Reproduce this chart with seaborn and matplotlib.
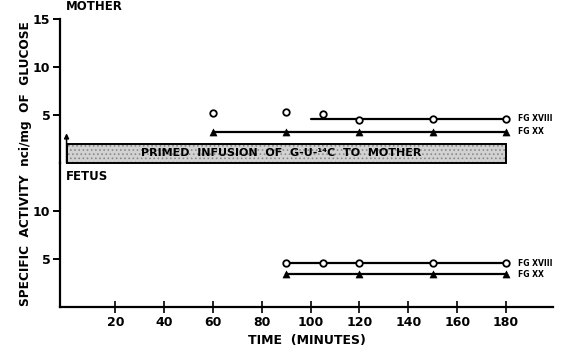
import numpy as np
import pandas as pd
import matplotlib
matplotlib.use('Agg')
import matplotlib.pyplot as plt
import seaborn as sns
from matplotlib.patches import Rectangle

# mother panel, FG XVIII (open circles) and FG XX (filled triangles)
mother_xviii_time = [60, 90, 105, 120, 150, 180]
mother_xviii_value = [5.25, 5.35, 5.1, 4.5, 4.6, 4.6]
mother_xviii_line = [100, 180]
mother_xviii_level = 4.6
mother_xx_time = [60, 90, 120, 150, 180]
mother_xx_value = [3.25, 3.25, 3.25, 3.25, 3.25]
mother_xx_line = [60, 180]
mother_xx_level = 3.25

# fetus panel
fetus_xviii_time = [90, 105, 120, 150, 180]
fetus_xviii_value = [4.55, 4.55, 4.55, 4.55, 4.55]
fetus_xviii_line = [90, 180]
fetus_xviii_level = 4.55
fetus_xx_time = [90, 120, 150, 180]
fetus_xx_value = [3.4, 3.4, 3.4, 3.4]
fetus_xx_line = [90, 180]
fetus_xx_level = 3.4

# infusion bar spans 0-180 min
infusion_start = 0
infusion_end = 180

x_ticks = [20, 40, 60, 80, 100, 120, 140, 160, 180]
mother_ticks = [5, 10, 15]
fetus_ticks = [5, 10]

sns.set_style('ticks')
plt.rcParams['font.family'] = ['DejaVu Sans']
plt.rcParams['font.weight'] = 'bold'
plt.rcParams['text.color'] = 'black'
plt.rcParams['axes.labelcolor'] = 'black'
plt.rcParams['xtick.color'] = 'black'
plt.rcParams['ytick.color'] = 'black'
plt.rcParams['axes.edgecolor'] = 'black'
plt.rcParams['hatch.linewidth'] = 0.7

fig = plt.figure(figsize=(5.69, 3.51), dpi=100)
ax_m = fig.add_axes([0.1054, 0.5356, 0.8666, 0.410])
ax_f = fig.add_axes([0.1054, 0.126, 0.8666, 0.4096])

xlim = (-2.7, 199.3)


def draw_group(ax, t1, v1, line1, lev1, t2, v2, line2, lev2):
    ax.plot(line1, [lev1, lev1], color='black', lw=1.6, zorder=2)
    ax.plot(line2, [lev2, lev2], color='black', lw=1.6, zorder=2)
    sns.scatterplot(x=t1, y=v1, ax=ax, marker='o', s=22, facecolor='white',
                    edgecolor='black', linewidth=1.3, zorder=3)
    sns.scatterplot(x=t2, y=v2, ax=ax, marker='^', s=26, color='black',
                    edgecolor='black', zorder=3)
    ax.text(185, lev1, 'FG XVIII', fontsize=5.5, fontweight='bold', va='center')
    ax.text(185, lev2, 'FG XX', fontsize=5.5, fontweight='bold', va='center')


draw_group(ax_m, mother_xviii_time, mother_xviii_value, mother_xviii_line, mother_xviii_level,
           mother_xx_time, mother_xx_value, mother_xx_line, mother_xx_level)
draw_group(ax_f, fetus_xviii_time, fetus_xviii_value, fetus_xviii_line, fetus_xviii_level,
           fetus_xx_time, fetus_xx_value, fetus_xx_line, fetus_xx_level)

# infusion bar: stippled fill, then black outline
ax_m.add_patch(Rectangle((infusion_start, 0), infusion_end - infusion_start, 2.0,
                         facecolor='#d2d2d2', edgecolor='#8a8a8a', lw=0,
                         hatch='....', zorder=2, clip_on=False))
ax_m.add_patch(Rectangle((infusion_start, 0), infusion_end - infusion_start, 2.0,
                         facecolor='none', edgecolor='black', lw=1.4,
                         zorder=3, clip_on=False))
ax_m.text((infusion_start + infusion_end) / 2 - 2, 1.0,
          'PRIMED  INFUSION  OF  G-U-¹⁴C  TO  MOTHER',
          ha='center', va='center', fontsize=8, fontweight='bold', zorder=4)
ax_m.annotate('', xy=(0, 3.1), xytext=(0, 0),
              arrowprops=dict(arrowstyle='-|>', color='black', lw=1.1,
                              mutation_scale=7, shrinkA=0, shrinkB=0))

for ax in (ax_m, ax_f):
    ax.set_xlim(*xlim)
    ax.set_ylim(0, 15)
    ax.spines['top'].set_visible(False)
    ax.spines['right'].set_visible(False)
    ax.spines['left'].set_linewidth(1.6)
    ax.tick_params(axis='y', length=5, width=1.4, labelsize=9, pad=2)
    ax.set_facecolor('none')

ax_m.spines['bottom'].set_visible(False)
ax_m.set_xticks([])
ax_m.set_yticks(mother_ticks)
ax_m.spines['left'].set_bounds(0, 15)

ax_f.set_yticks(fetus_ticks)
ax_f.spines['left'].set_bounds(0, 15)
ax_f.spines['bottom'].set_linewidth(1.6)
ax_f.set_xticks(x_ticks)
ax_f.tick_params(axis='x', direction='inout', length=8, width=1.2,
                 labelsize=9, pad=3)
ax_f.set_xlabel('TIME  (MINUTES)', fontsize=9, fontweight='bold', labelpad=3)

fig.text(0.115, 1.0, 'MOTHER', fontsize=8.5, fontweight='bold', va='top')
fig.text(0.115, 0.496, 'FETUS', fontsize=8.5, fontweight='bold', va='center')
fig.text(0.045, 0.535, 'SPECIFIC  ACTIVITY  nci/mg  OF  GLUCOSE', rotation=90,
         fontsize=8.7, fontweight='bold', ha='center', va='center')

fig.savefig('out.png', dpi=100)
